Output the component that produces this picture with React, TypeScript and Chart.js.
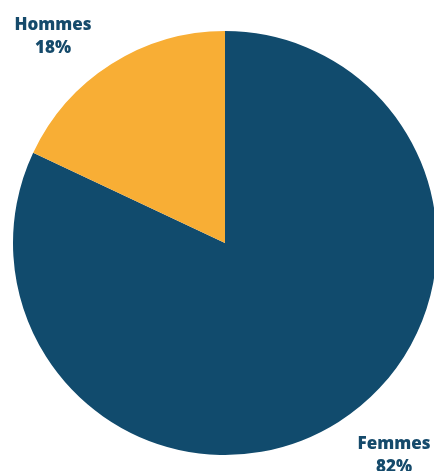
import React, { useEffect, useRef } from "react";
import { Chart, registerables } from "chart.js";

Chart.register(...registerables);

const categories = ["Femmes", "Hommes"];
const values = [82, 18];
const percentLabels = ["82%", "18%"];
const colors = ["#114b6d", "#f8ae35"];

const labelPlugin = {
  id: "outerLabels",
  afterDraw(chart: any) {
    const ctx = chart.ctx;
    ctx.save();
    ctx.fillStyle = "#154a6b";
    ctx.font = "800 17px 'Open Sans'";
    ctx.textAlign = "center";
    ctx.textBaseline = "alphabetic";
    // Hommes (index 1) top-left, Femmes (index 0) bottom-right
    const pos = [
      { x: 394, y: 449 },
      { x: 53, y: 30 },
    ];
    categories.forEach((c, i) => {
      ctx.fillText(c, pos[i].x, pos[i].y);
      ctx.fillText(percentLabels[i], pos[i].x, pos[i].y + 23);
    });
    ctx.restore();
  },
};

export default function App() {
  const ref = useRef<HTMLCanvasElement>(null);
  useEffect(() => {
    if (!ref.current) return;
    const chart = new Chart(ref.current, {
      type: "pie",
      data: {
        labels: categories,
        datasets: [
          {
            data: values,
            backgroundColor: colors,
            borderWidth: 0,
          },
        ],
      },
      options: {
        animation: false,
        responsive: true,
        maintainAspectRatio: false,
        layout: { padding: { top: 31, bottom: 16, left: 13, right: 23 } },
        plugins: {
          legend: { display: false },
          tooltip: { enabled: false },
        },
      },
      plugins: [labelPlugin],
    });
    return () => chart.destroy();
  }, []);
  return (
    <div style={{ position: "absolute", left: 0, top: 0, width: 460, height: 471 }}>
      <canvas ref={ref} />
    </div>
  );
}
